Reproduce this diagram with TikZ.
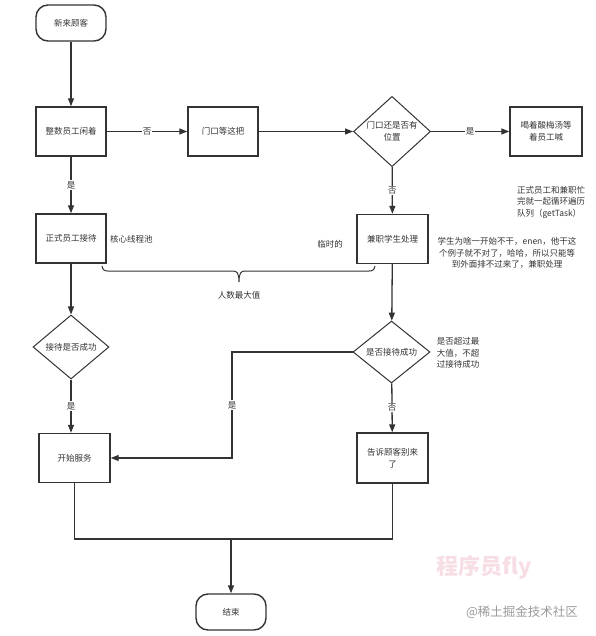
\documentclass[tikz,border=0pt]{standalone}
\usepackage{fontspec}
\setmainfont{Noto Sans CJK SC}
\usetikzlibrary{shapes.geometric,arrows.meta}
\definecolor{linec}{HTML}{333333}
\definecolor{txtc}{HTML}{333333}
\definecolor{wmpink}{HTML}{F6DEE4}
\definecolor{wmgray}{HTML}{9A9A9A}
\tikzset{
  box/.style={draw=linec, line width=1.4pt, minimum width=70pt, minimum height=49pt, align=center, inner sep=1pt, text=txtc},
  term/.style={box, rounded corners=12pt, minimum height=36pt},
  dec/.style={draw=linec, line width=1pt, diamond, minimum width=77pt, minimum height=63pt, inner sep=0pt, align=center, text=txtc},
  line/.style={draw=linec, line width=1.3pt},
  conn/.style={line, -{Triangle[length=8pt,width=6pt]}},
  lbl/.style={fill=white, inner sep=1pt, text=txtc},
  note/.style={text=txtc, inner sep=0pt}
}
\begin{document}
\begin{tikzpicture}[x=1pt,y=-1pt, font=\fontsize{8.5}{11.5}\selectfont]
\useasboundingbox (0,0) rectangle (595,636);
% nodes
\node[term] (start) at (71,23) {新来顾客};
\node[box] (idle) at (71,131.5) {整数员工闲着};
\node[box] (wait) at (223,131.5) {门口等这把};
\node[dec] (q1) at (392,131.5) {门口还是否有\\位置};
\node[box, minimum width=72pt] (drink) at (546,131.5) {喝着酸梅汤等\\着员工喊};
\node[box] (formal) at (71,238.5) {正式员工接待};
\node[box, minimum width=71pt] (part) at (392.5,239) {兼职学生处理};
\node[dec, minimum width=76pt, minimum height=64pt] (q2) at (71,347) {接待是否成功};
\node[dec, minimum height=62pt] (q3) at (391.5,352) {是否接待成功};
\node[box, minimum width=71pt] (serve) at (74.5,458) {开始服务};
\node[box, minimum width=71pt, minimum height=50pt] (tell) at (392.5,458) {告诉顾客别来\\了};
\node[term] (end) at (231,612) {结束};
% connectors
\draw[conn] (start) -- (idle);
\draw[conn] (idle) -- node[lbl]{否} (wait);
\draw[conn] (wait) -- (q1);
\draw[conn] (q1) -- node[lbl]{是} (drink);
\draw[conn] (q1) -- node[lbl]{否} (part);
\draw[conn] (idle) -- node[lbl]{是} (formal);
\draw[conn] (formal) -- (q2);
\draw[conn] (part) -- (q3);
\draw[conn] (q2.south) -- node[lbl]{是} (q2.south |- serve.north);
\draw[conn] (q3) -- node[lbl]{否} (tell);
\coordinate (bend) at (232,458);
\draw[conn] (q3.west) -| node[pos=0.75,lbl]{是} (bend) -- (serve.east);
\coordinate (merge) at (231,539);
\draw[line] (serve.south) |- (merge);
\draw[line] (tell.south) |- (merge);
\draw[conn] (merge) -- (end);
% brace
\draw[linec, line width=1pt] (102,266) .. controls (103,270) and (104,271) .. (108,271) -- (233,271)
  .. controls (237,271) and (239,273) .. (239,282)
  .. controls (239,273) and (241,271) .. (245,271) -- (369,271)
  .. controls (373,271) and (374,270) .. (375,266);
% annotations
\node[note, anchor=west] (core) at (110,239) {核心线程池};
\node[note] (temp) at (330,244) {临时的};
\node[note] (maxv) at (239,295) {人数最大值};
\node[note, align=left] (loop) at (551,202) {正式员工和兼职忙\\完就一起循环遍历\\队列（getTask）};
\node[note, align=center] (why) at (507,253) {学生为啥一开始不干，enen，他干这\\个例子就不对了，哈哈，所以只能等\\到外面排不过来了，兼职处理};
\node[note, align=left] (over) at (458,353) {是否超过最\\大值，不超\\过接待成功};
% watermark
\node[note, text=wmpink, font=\fontsize{22}{22}\selectfont\bfseries] (wm) at (484,567) {程序员fly};
\node[note, text=wmgray, font=\fontsize{12.5}{13}\selectfont] (site) at (522,612) {@稀土掘金技术社区};
\end{tikzpicture}
\end{document}
